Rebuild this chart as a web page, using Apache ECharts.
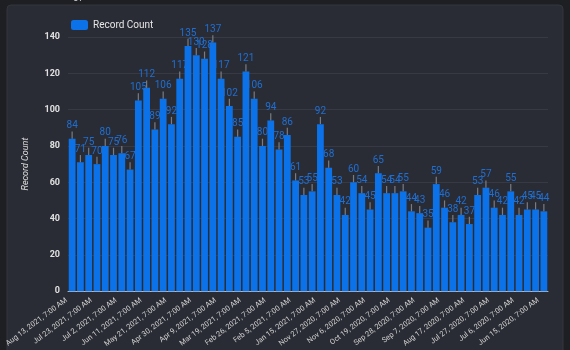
<!DOCTYPE html>
<html>
<head>
<meta charset="utf-8">
<script src="https://cdn.jsdelivr.net/npm/echarts@6/dist/echarts.min.js"></script>
<style>
  html, body { margin: 0; padding: 0; background: #1e1f23; }
  #chart { width: 570px; height: 350px; }
</style>
</head>
<body>
<div id="chart"></div>
<script>
// weekly dates, newest first (only every third one is labelled)
var dates = [
  'Aug 13, 2021, 7:00 AM', 'Aug 6, 2021, 7:00 AM', 'Jul 30, 2021, 7:00 AM',
  'Jul 23, 2021, 7:00 AM', 'Jul 16, 2021, 7:00 AM', 'Jul 9, 2021, 7:00 AM',
  'Jul 2, 2021, 7:00 AM', 'Jun 25, 2021, 7:00 AM', 'Jun 18, 2021, 7:00 AM',
  'Jun 11, 2021, 7:00 AM', 'Jun 4, 2021, 7:00 AM', 'May 28, 2021, 7:00 AM',
  'May 21, 2021, 7:00 AM', 'May 14, 2021, 7:00 AM', 'May 7, 2021, 7:00 AM',
  'Apr 30, 2021, 7:00 AM', 'Apr 23, 2021, 7:00 AM', 'Apr 16, 2021, 7:00 AM',
  'Apr 9, 2021, 7:00 AM', 'Apr 2, 2021, 7:00 AM', 'Mar 26, 2021, 7:00 AM',
  'Mar 19, 2021, 7:00 AM', 'Mar 12, 2021, 7:00 AM', 'Mar 5, 2021, 7:00 AM',
  'Feb 26, 2021, 7:00 AM', 'Feb 19, 2021, 7:00 AM', 'Feb 12, 2021, 7:00 AM',
  'Feb 5, 2021, 7:00 AM', 'Jan 29, 2021, 7:00 AM', 'Jan 22, 2021, 7:00 AM',
  'Jan 15, 2021, 7:00 AM', 'Jan 8, 2021, 7:00 AM', 'Dec 11, 2020, 7:00 AM',
  'Nov 27, 2020, 7:00 AM', 'Nov 20, 2020, 7:00 AM', 'Nov 13, 2020, 7:00 AM',
  'Nov 6, 2020, 7:00 AM', 'Nov 2, 2020, 7:00 AM', 'Oct 26, 2020, 7:00 AM',
  'Oct 19, 2020, 7:00 AM', 'Oct 12, 2020, 7:00 AM', 'Oct 5, 2020, 7:00 AM',
  'Sep 28, 2020, 7:00 AM', 'Sep 21, 2020, 7:00 AM', 'Sep 14, 2020, 7:00 AM',
  'Sep 7, 2020, 7:00 AM', 'Aug 31, 2020, 7:00 AM', 'Aug 24, 2020, 7:00 AM',
  'Aug 17, 2020, 7:00 AM', 'Aug 10, 2020, 7:00 AM', 'Aug 3, 2020, 7:00 AM',
  'Jul 27, 2020, 7:00 AM', 'Jul 20, 2020, 7:00 AM', 'Jul 13, 2020, 7:00 AM',
  'Jul 6, 2020, 7:00 AM', 'Jun 29, 2020, 7:00 AM', 'Jun 22, 2020, 7:00 AM',
  'Jun 15, 2020, 7:00 AM'
];
var recordCount = [
  84, 71, 75, 70, 80, 75, 76, 67, 105, 112,
  89, 106, 92, 117, 135, 130, 128, 137, 117, 102,
  85, 121, 106, 80, 94, 78, 86, 61, 53, 55,
  92, 68, 53, 42, 60, 54, 45, 65, 54, 54,
  55, 44, 43, 35, 59, 46, 38, 42, 37, 53,
  57, 46, 42, 55, 42, 45, 45, 44
];
var errorSize = 4;
var yTicks = [0, 140, 20]; // min, max, step

var chart = echarts.init(document.getElementById('chart'));

chart.setOption({
  backgroundColor: '#1e1f23',
  animation: false,
  graphic: [
    {
      type: 'rect', z: -10,
      shape: { x: 7, y: 5, width: 556, height: 360, r: 4 },
      style: { fill: '#2a2c35', stroke: '#34363f', lineWidth: 1 }
    },
    {
      type: 'text', left: 73, top: -7,
      style: { text: '07', fill: '#c8c8c8', fontSize: 10, fontFamily: 'Roboto' }
    }
  ],
  legend: {
    left: 66, top: 15,
    itemWidth: 17, itemHeight: 10, itemGap: 6,
    data: ['Record Count'],
    textStyle: { color: '#e6e6e6', fontSize: 10, fontFamily: 'Roboto' }
  },
  grid: { left: 68, right: 22, top: 37, bottom: 49 },
  xAxis: {
    type: 'category',
    data: dates,
    axisLine: { lineStyle: { color: '#b8b8b8' } },
    axisTick: { show: false },
    axisLabel: {
      interval: 2, rotate: 37, color: '#d0d0d0',
      fontSize: 7.5, fontFamily: 'Roboto', margin: 4,
      padding: [0, 7, 0, 0]
    }
  },
  yAxis: {
    type: 'value',
    min: yTicks[0], max: yTicks[1], interval: yTicks[2],
    name: 'Record Count',
    nameLocation: 'middle', nameGap: 38,
    nameTextStyle: { color: '#e0e0e0', fontSize: 9, fontStyle: 'italic', fontFamily: 'Roboto' },
    axisLine: { show: false },
    axisTick: { show: false },
    axisLabel: { color: '#e0e0e0', fontSize: 9, fontWeight: 'bold', fontFamily: 'Roboto', margin: 8 },
    splitLine: { lineStyle: { color: '#373a44', width: 1 } }
  },
  series: [
    {
      name: 'Record Count',
      type: 'bar',
      data: recordCount,
      barWidth: '82%',
      itemStyle: { color: '#0b72ea' },
      label: {
        show: true, position: 'top', distance: 8,
        color: '#1f6fd3', fontSize: 10, fontFamily: 'Roboto'
      }
    },
    {
      name: 'error',
      type: 'custom',
      data: recordCount,
      z: 3,
      renderItem: function (params, api) {
        var i = api.value(0);
        var v = api.value(1);
        var top = api.coord([i, v + errorSize]);
        var bot = api.coord([i, v]);
        return {
          type: 'line',
          shape: { x1: top[0], y1: top[1], x2: bot[0], y2: bot[1] },
          style: { stroke: '#7a7c82', lineWidth: 1.2 }
        };
      },
      encode: { x: 0, y: 1 },
      silent: true
    }
  ]
});
</script>
</body>
</html>
